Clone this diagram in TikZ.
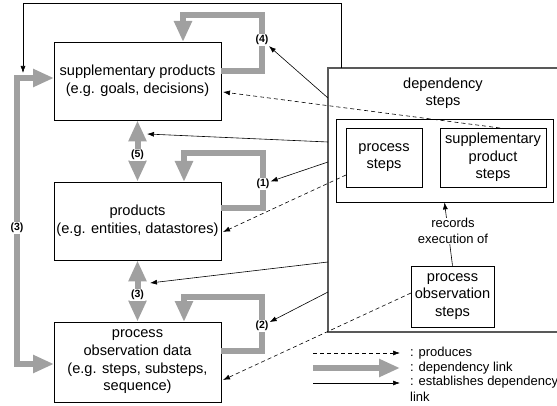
\documentclass[tikz,border=0pt]{standalone}
\usepackage{fontspec}
\setmainfont{Liberation Sans}
\usetikzlibrary{arrows.meta}
\definecolor{dlgray}{RGB}{160,160,160}
\tikzset{
 box/.style={draw, line width=0.8pt, inner sep=0pt, align=center, font=\fontsize{14.6}{17.7}\selectfont},
 plain/.style={inner sep=0pt, align=center, font=\fontsize{14.6}{17.3}\selectfont},
 deparr/.style={draw=dlgray, line width=6pt, -{Triangle[length=21pt,width=17pt]}},
 depboth/.style={draw=dlgray, line width=6pt, {Triangle[length=21pt,width=17pt]}-{Triangle[length=21pt,width=17pt]}},
 est/.style={draw, line width=0.6pt, -{Latex[length=7pt,width=5pt]}},
 prod/.style={draw, dash pattern=on 4pt off 3pt, line width=0.6pt, -{Latex[length=7pt,width=5pt]}},
 lbl/.style={font=\fontsize{10.5}{12}\selectfont\bfseries, fill=white, inner sep=1pt},
 small/.style={font=\fontsize{13}{15.5}\selectfont, align=center, inner sep=0pt}
}
\begin{document}
\begin{tikzpicture}[x=1pt,y=-1pt]
\useasboundingbox (0,0) rectangle (557,406);
% left boxes
\node[box, minimum width=167pt, minimum height=78pt] (sp) at (137.5,81) {supplementary products\\(e.g. goals, decisions)};
\node[box, minimum width=167pt, minimum height=78pt] (pr) at (137.5,221) {products\\(e.g. entities, datastores)};
\node[box, minimum width=167pt, minimum height=80pt] (pod) at (137.5,362) {process\\observation data\\(e.g. steps, substeps,\\sequence)};
% big dependency steps box (open to the right)
\draw[line width=1.1pt, black!65] (557,68) -- (328,68) -- (328,332) -- (557,332);
\node[plain] (dst) at (443,93.5) {dependency\\steps};
\node[box, minimum width=217pt, minimum height=83pt] (inner) at (444.5,160.5) {};
\node[box, minimum width=76pt, minimum height=59pt] (ps) at (384,157.5) {process\\steps};
\node[box, minimum width=106pt, minimum height=59pt] (sps) at (493,157.5) {supplementary\\product\\steps};
\node[box, minimum width=83pt, minimum height=61pt] (pos) at (452.5,296.5) {process\\observation\\steps};
% records execution of
\draw[est] (pos.north) -- (inner.south);
\node[small, fill=white] (rec) at (453,231) {records\\execution of};
% grey dependency loops
\draw[deparr] (221,71) -- (262,71) -- (262,15) -- (183,15) -- (183,42);
\draw[deparr] (221,208) -- (263,208) -- (263,153) -- (184,153) -- (184,182);
\draw[deparr] (221,351) -- (262,351) -- (262,297) -- (184,297) -- (184,322);
\draw[depboth] (sp.south) -- (pr.north);
\draw[depboth] (pr.south) -- (pod.north);
\draw[depboth] (54,78) -- (17,78) -- (17,364) -- (54,364);
% labels
\node[lbl] (l4) at (262,40) {(4)};
\node[lbl] (l1) at (263,184) {(1)};
\node[lbl] (l2) at (262,326) {(2)};
\node[lbl] (l5) at (137.5,155) {(5)};
\node[lbl] (l3a) at (137.5,295) {(3)};
\node[lbl] (l3b) at (17,228) {(3)};
% coordinates
\coordinate (t0) at (341,68);
\coordinate (t1) at (341,3);
\coordinate (t2) at (23,3);
\coordinate (t3) at (23,73);
\coordinate (c4) at (328,98);
\coordinate (c5) at (328,142);
\coordinate (e5) at (147,134);
\coordinate (c1) at (328,162);
\coordinate (c3) at (328,262);
\coordinate (e3) at (150,283);
\coordinate (c2) at (328,292);
\coordinate (d1) at (346,175);
\coordinate (f1) at (223,232);
\coordinate (d2) at (500,128);
\coordinate (f2) at (223,92);
\coordinate (d3) at (411,293);
\coordinate (f3) at (223,380);
% establishes dependency links
\draw[est] (t0) -- (t1) -- (t2) -- (t3);
\draw[est] (c4) -- (l4);
\draw[est] (c5) -- (e5);
\draw[est] (c1) -- (l1);
\draw[est] (c3) -- (e3);
\draw[est] (c2) -- (l2);
% produces
\draw[prod] (d1) -- (f1);
\draw[prod] (d2) -- (f2);
\draw[prod] (d3) -- (f3);
% legend
\coordinate (g1a) at (313,353); \coordinate (g1b) at (400,353);
\coordinate (g2a) at (313,368); \coordinate (g2b) at (400,368);
\coordinate (g3a) at (313,383); \coordinate (g3b) at (400,383);
\draw[prod] (g1a) -- (g1b);
\draw[deparr] (g2a) -- (g2b);
\draw[est] (g3a) -- (g3b);
\node[small, anchor=west] (t1l) at (410,353) {: produces};
\node[small, anchor=west] (t2l) at (410,368) {: dependency link};
\node[small, anchor=north west, align=left] (t3l) at (410,376) {: establishes dependency\\link};
\end{tikzpicture}
\end{document}
